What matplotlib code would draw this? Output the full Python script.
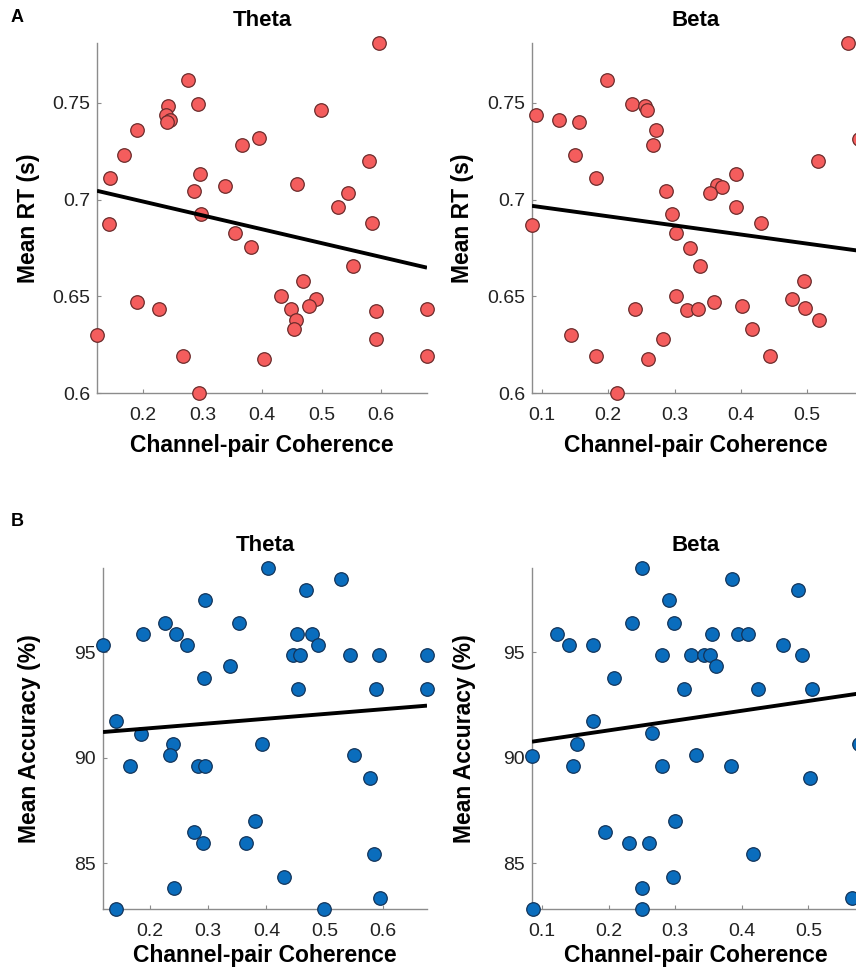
import numpy as np
import matplotlib
matplotlib.use("Agg")
import matplotlib.pyplot as plt
from matplotlib.transforms import blended_transform_factory

plt.rcParams['font.family'] = ['Liberation Sans', 'DejaVu Sans']

# ---------------- data ----------------
# Panel A, Theta: coherence vs mean RT (s)
theta_coh_rt = [0.276, 0.242, 0.238, 0.246, 0.240, 0.292, 0.189, 0.1675, 0.144, 0.366,
                0.395, 0.295, 0.285, 0.337, 0.297, 0.143, 0.597, 0.499, 0.579, 0.459,
                0.545, 0.528, 0.585, 0.354, 0.381, 0.190, 0.2265, 0.1226, 0.2668, 0.294,
                0.4027, 0.552, 0.469, 0.432, 0.491, 0.4785, 0.449, 0.4566, 0.453, 0.5906,
                0.677, 0.592, 0.677]
theta_rt = [0.7617, 0.7483, 0.744, 0.7414, 0.740, 0.7495, 0.7359, 0.7233, 0.711, 0.728,
            0.732, 0.713, 0.7045, 0.707, 0.6924, 0.6872, 0.781, 0.7462, 0.720, 0.708,
            0.7033, 0.6962, 0.6877, 0.683, 0.6755, 0.647, 0.6432, 0.630, 0.619, 0.600,
            0.6177, 0.6655, 0.658, 0.650, 0.6486, 0.6448, 0.6432, 0.638, 0.633, 0.6425,
            0.6436, 0.628, 0.619]

# Panel A, Beta: coherence vs mean RT (s)
beta_coh_rt = [0.1988, 0.2355, 0.2556, 0.258, 0.0914, 0.126, 0.1557, 0.272, 0.267, 0.150,
               0.181, 0.287, 0.2958, 0.085, 0.5618, 0.5157, 0.392, 0.3645, 0.372, 0.3535,
               0.392, 0.4298, 0.578, 0.3018, 0.302, 0.2405, 0.1436, 0.283, 0.181, 0.2596,
               0.2139, 0.3233, 0.3384, 0.4955, 0.360, 0.4765, 0.319, 0.3358, 0.402, 0.4965,
               0.5176, 0.416, 0.4438]
beta_rt = [0.7617, 0.7493, 0.7483, 0.7462, 0.744, 0.7414, 0.740, 0.7359, 0.728, 0.7233,
           0.711, 0.7045, 0.6924, 0.687, 0.781, 0.720, 0.713, 0.7078, 0.7065, 0.7033,
           0.6962, 0.6877, 0.7316, 0.683, 0.650, 0.6432, 0.630, 0.628, 0.619, 0.6177,
           0.600, 0.6752, 0.6655, 0.658, 0.647, 0.6486, 0.6427, 0.6432, 0.645, 0.6439,
           0.638, 0.633, 0.619]

# Panel B, Theta: coherence vs mean accuracy (%)
theta_coh_acc = [0.2945, 0.2258, 0.3534, 0.1885, 0.2447, 0.264, 0.1198, 0.3375, 0.2928, 0.1427,
                 0.1857, 0.240, 0.392, 0.4033, 0.5277, 0.468, 0.452, 0.4778, 0.489, 0.4462,
                 0.4577, 0.5436, 0.5923, 0.6754, 0.4548, 0.5883, 0.6754, 0.2355, 0.1668, 0.283,
                 0.2945, 0.3804, 0.2756, 0.2916, 0.365, 0.2418, 0.1416, 0.5505, 0.578, 0.5837,
                 0.4302, 0.595, 0.499]
theta_acc = [97.46, 96.41, 96.41, 95.89, 95.89, 95.37, 95.37, 94.34, 93.80, 91.74,
             91.15, 90.68, 90.68, 99.0, 98.49, 97.98, 95.89, 95.89, 95.37, 94.86,
             94.86, 94.86, 94.86, 94.86, 93.28, 93.28, 93.28, 90.13, 89.61, 89.61,
             89.61, 87.0, 86.47, 85.95, 85.95, 83.85, 82.84, 90.13, 89.07, 85.43,
             84.37, 83.35, 82.84]

# Panel B, Beta: coherence vs mean accuracy (%)
beta_coh_acc = [0.085, 0.087, 0.123, 0.141, 0.146, 0.152, 0.176, 0.176, 0.194, 0.208,
                0.235, 0.230, 0.250, 0.250, 0.250, 0.260, 0.265, 0.280, 0.280, 0.290,
                0.298, 0.300, 0.297, 0.313, 0.323, 0.332, 0.343, 0.355, 0.352, 0.361,
                0.385, 0.384, 0.395, 0.410, 0.425, 0.417, 0.462, 0.485, 0.490, 0.505,
                0.503, 0.565, 0.576]
beta_acc = [90.1, 82.84, 95.89, 95.37, 89.61, 90.68, 91.74, 95.37, 86.47, 93.8,
            96.41, 85.95, 99.0, 82.84, 83.85, 85.95, 91.2, 89.61, 94.86, 97.46,
            96.41, 87.0, 84.37, 93.28, 94.86, 90.13, 94.86, 95.89, 94.86, 94.34,
            98.49, 89.61, 95.89, 95.89, 93.28, 85.43, 95.37, 97.98, 94.86, 93.28,
            89.07, 83.35, 90.68]

rt_yticks = [0.6, 0.65, 0.7, 0.75]
rt_yticklabels = ['0.6', '0.65', '0.7', '0.75']
acc_yticks = [85, 90, 95]
theta_xticks = [0.2, 0.3, 0.4, 0.5, 0.6]
beta_xticks = [0.1, 0.2, 0.3, 0.4, 0.5]

red = '#F45D5D'
red_edge = '#6B2B2B'
blue = '#0A6DBD'
blue_edge = '#12345A'
spine_col = '#8C8C8C'

W, H = 856, 973
fig = plt.figure(figsize=(W / 100, H / 100), dpi=100)


def make_ax(l, r, t, b):
    return fig.add_axes([l / W, 1 - b / H, (r - l) / W, (b - t) / H])


def style(ax, x, y, xticks, yticks, ylab, ylab_px, xlabpad, title, color, edge, yticklabels=None):
    x = np.asarray(x); y = np.asarray(y)
    ax.scatter(x, y, s=95, c=color, edgecolors=edge, linewidths=0.9, zorder=3, clip_on=False)
    k, b0 = np.polyfit(x, y, 1)
    xl = np.array([x.min(), x.max()])
    ax.plot(xl, k * xl + b0, color='black', lw=2.8, zorder=4, solid_capstyle='butt')
    ax.set_xlim(x.min(), x.max())
    ax.set_ylim(y.min(), y.max())
    for s in ['top', 'right']:
        ax.spines[s].set_visible(False)
    for s in ['left', 'bottom']:
        ax.spines[s].set_color(spine_col)
        ax.spines[s].set_linewidth(1.0)
    ax.set_xticks(xticks)
    ax.set_xticklabels([f'{v:g}' for v in xticks])
    ax.set_yticks(yticks)
    if yticklabels is not None:
        ax.set_yticklabels(yticklabels)
    ax.tick_params(direction='in', length=3, width=0.8, color=spine_col,
                   labelsize=14, labelcolor='#222222')
    ax.tick_params(axis='y', pad=5)
    ax.tick_params(axis='x', pad=10)
    ax.set_xlabel('Channel-pair Coherence', fontsize=16.5, fontweight='bold', labelpad=xlabpad)
    ax.set_ylabel(ylab, fontsize=16.5, fontweight='bold')
    tr = blended_transform_factory(fig.transFigure, ax.transAxes)
    ax.yaxis.set_label_coords((ylab_px + 13) / W, 0.5, transform=tr)
    ax.set_title(title, fontsize=16, fontweight='bold', pad=12)
    ax.patch.set_alpha(0)


a1 = make_ax(97, 427, 43, 393)
style(a1, theta_coh_rt, theta_rt, theta_xticks, rt_yticks, 'Mean RT (s)', 27, 7, 'Theta', red, red_edge, rt_yticklabels)
a2 = make_ax(532, 859, 43, 393)
style(a2, beta_coh_rt, beta_rt, beta_xticks, rt_yticks, 'Mean RT (s)', 461, 7, 'Beta', red, red_edge, rt_yticklabels)
b1 = make_ax(103, 427, 568, 909)
style(b1, theta_coh_acc, theta_acc, theta_xticks, acc_yticks, 'Mean Accuracy (%)', 28, 3, 'Theta', blue, blue_edge)
b2 = make_ax(532, 859, 568, 909)
style(b2, beta_coh_acc, beta_acc, beta_xticks, acc_yticks, 'Mean Accuracy (%)', 463, 3, 'Beta', blue, blue_edge)

fig.text(11 / W, 1 - 18 / H, 'A', fontsize=13, fontweight='bold', va='center', ha='left')
fig.text(11 / W, 1 - 522 / H, 'B', fontsize=13, fontweight='bold', va='center', ha='left')

fig.savefig('out.png', dpi=100)
